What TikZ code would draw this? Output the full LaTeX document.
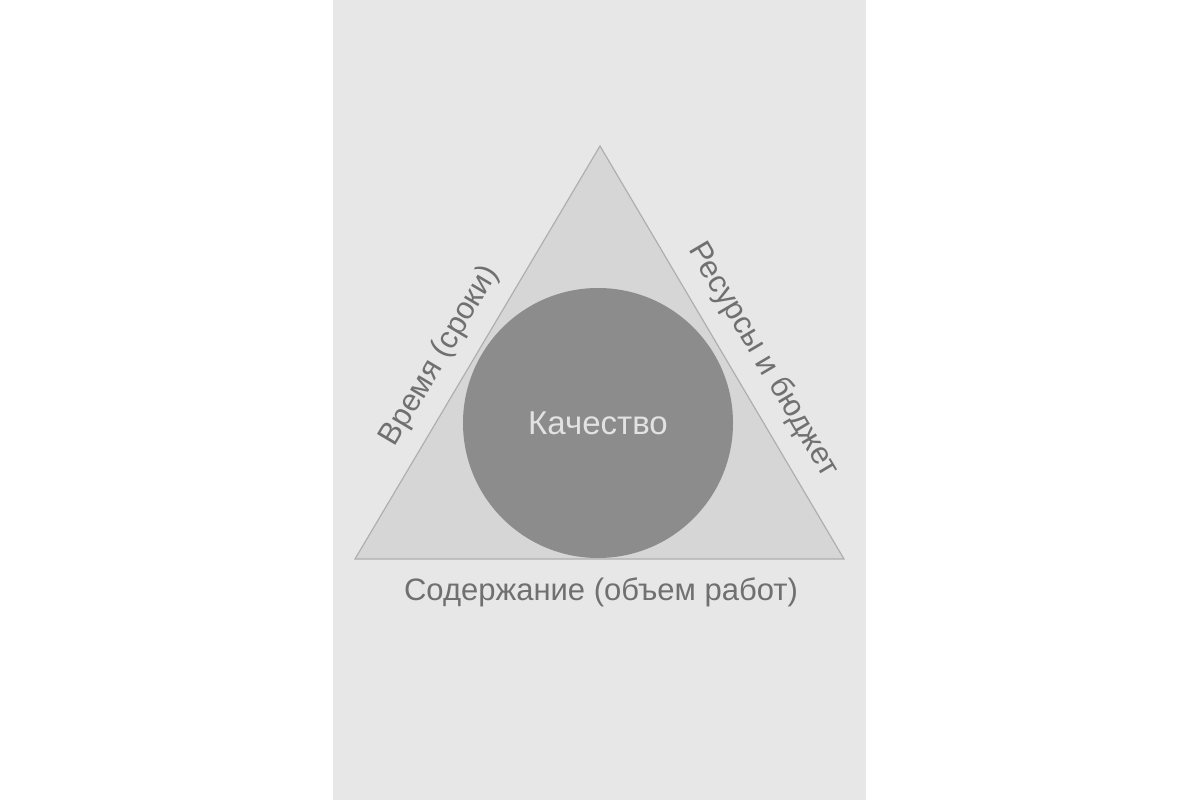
\documentclass[tikz,border=0pt]{standalone}
\usepackage{fontspec}
\setmainfont{Liberation Sans}
\definecolor{paper}{RGB}{231,231,231}
\definecolor{trifill}{RGB}{214,214,214}
\definecolor{triline}{RGB}{175,175,175}
\definecolor{circfill}{RGB}{140,140,140}
\definecolor{txtgray}{RGB}{112,112,112}
\definecolor{txtlight}{RGB}{226,226,226}
\begin{document}
\begin{tikzpicture}[x=1pt,y=-1pt,
  lbl/.style={text=txtgray,font=\fontsize{31}{34}\selectfont,inner sep=0pt},
  lblin/.style={text=txtlight,font=\fontsize{33}{36}\selectfont,inner sep=0pt}]
\useasboundingbox (0,0) rectangle (1200,800);
\fill[white] (0,0) rectangle (1200,800);
\fill[paper] (333,0) rectangle (866,800);
\coordinate (A) at (600,146);
\coordinate (B) at (355,559);
\coordinate (C) at (844,559);
\filldraw[fill=trifill,draw=triline,line width=1.2pt,line join=miter] (A) -- (B) -- (C) -- cycle;
\node[circle,fill=circfill,minimum size=270pt,inner sep=0pt] (Q) at (598,423) {};
\node[lblin] (q) at (Q) {Качество};
\node[lbl] (s) at (601,592) {Содержание (объем работ)};
\node[lbl,rotate=59.3] (t) at (440,356) {Время (сроки)};
\node[lbl,rotate=-59.3] (r) at (763,360) {Ресурсы и бюджет};
\end{tikzpicture}
\end{document}
